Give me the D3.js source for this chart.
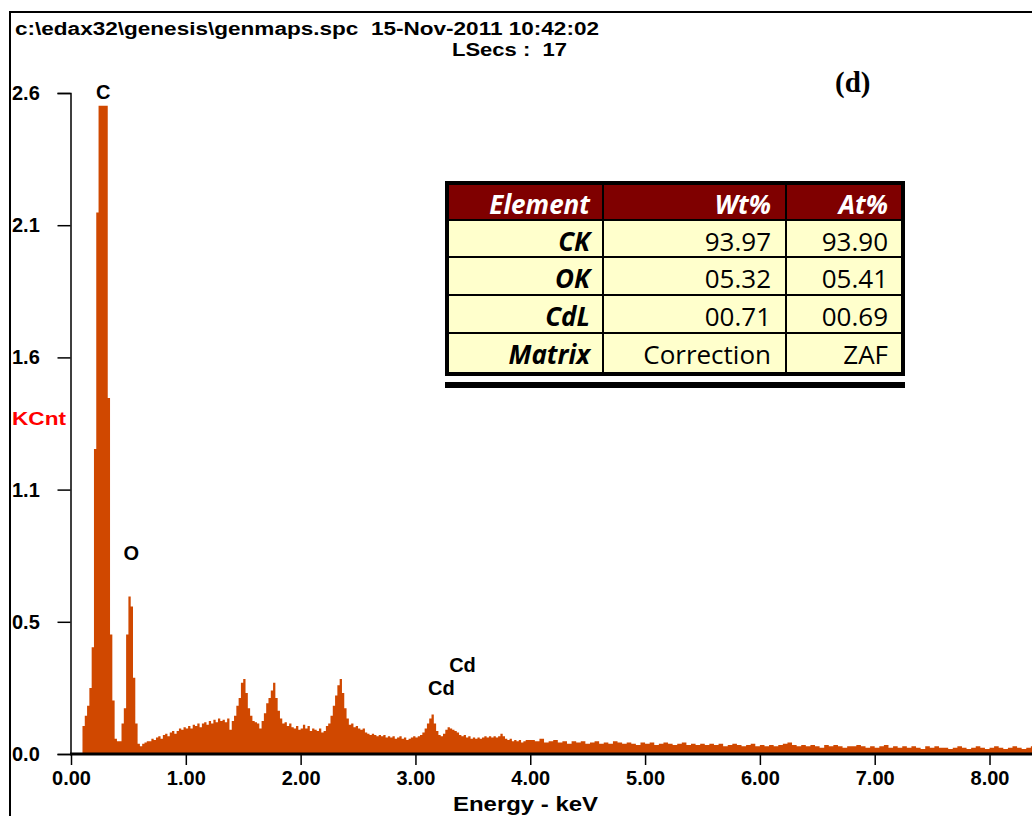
<!DOCTYPE html>
<html>
<head>
<meta charset="utf-8">
<script src="https://cdnjs.cloudflare.com/ajax/libs/d3/7.8.5/d3.min.js"></script>
<style>
body { margin: 0; background: #fff; }
svg { display: block; }
</style>
</head>
<body>
<div id="chart"></div>
<script>
//spectrum counts (KCnt), fine channels from 0.10 keV in 0.02 keV steps
var lowStart = 0.10;
var lowStep = 0.02;
var lowCounts = [
    0.11, 0.15, 0.19, 0.26, 0.42, 1.20, 2.13, 2.55, 2.55, 2.55,
    2.55, 1.40, 0.47, 0.21, 0.06, 0.05, 0.05, 0.12, 0.18, 0.47,
    0.62, 0.58, 0.30, 0.12, 0.04, 0.03, 0.04, 0.045, 0.05, 0.05,
    0.06, 0.055, 0.065, 0.07, 0.06, 0.075, 0.08, 0.07, 0.085, 0.09,
    0.08, 0.09, 0.10, 0.095, 0.105, 0.10, 0.11, 0.10, 0.115, 0.11,
    0.12, 0.105, 0.12, 0.125, 0.115, 0.13, 0.12, 0.135, 0.125, 0.14,
    0.13, 0.135, 0.125, 0.14, 0.095, 0.13, 0.15, 0.19, 0.22, 0.28,
    0.295, 0.24, 0.18, 0.15, 0.13, 0.125, 0.12, 0.10, 0.13, 0.16,
    0.20, 0.22, 0.25, 0.28, 0.22, 0.17, 0.14, 0.12, 0.125, 0.11,
    0.12, 0.105, 0.10, 0.11, 0.095, 0.10, 0.115, 0.10, 0.11, 0.09,
    0.10, 0.095, 0.09, 0.10, 0.085, 0.09, 0.11, 0.12, 0.15, 0.19,
    0.23, 0.27, 0.295, 0.24, 0.18, 0.14, 0.115, 0.12, 0.105, 0.11,
    0.10, 0.095, 0.10, 0.085, 0.08, 0.075, 0.08, 0.075, 0.07, 0.075,
    0.07, 0.075, 0.065, 0.07, 0.065, 0.07, 0.06, 0.065, 0.07, 0.06,
    0.065, 0.055, 0.06, 0.065, 0.07, 0.065, 0.07, 0.075, 0.085, 0.10,
    0.12, 0.14, 0.155, 0.12, 0.09, 0.075, 0.07, 0.08, 0.095, 0.105,
    0.10, 0.095, 0.09, 0.085, 0.075, 0.07, 0.075, 0.065, 0.07, 0.06,
    0.065, 0.06, 0.065, 0.06, 0.065, 0.07, 0.065, 0.07, 0.065, 0.07,
    0.065, 0.07, 0.08, 0.07, 0.06, 0.055, 0.06, 0.05, 0.055, 0.05,
    0.055, 0.045, 0.05, 0.055
];

//coarser channels from 4.00 keV in 0.04 keV steps
var highStart = 4.00;
var highStep = 0.04;
var highCounts = [
    0.055, 0.05, 0.06, 0.045, 0.05, 0.055, 0.045, 0.05, 0.04, 0.05,
    0.045, 0.05, 0.04, 0.045, 0.05, 0.04, 0.045, 0.04, 0.05, 0.045,
    0.04, 0.045, 0.04, 0.035, 0.045, 0.04, 0.045, 0.035, 0.04, 0.045,
    0.04, 0.035, 0.04, 0.045, 0.035, 0.04, 0.035, 0.04, 0.035, 0.04,
    0.035, 0.04, 0.03, 0.035, 0.04, 0.035, 0.03, 0.035, 0.04, 0.03,
    0.035, 0.03, 0.035, 0.03, 0.035, 0.04, 0.045, 0.035, 0.03, 0.035,
    0.03, 0.035, 0.03, 0.025, 0.035, 0.03, 0.035, 0.03, 0.025, 0.03,
    0.03, 0.035, 0.03, 0.025, 0.03, 0.025, 0.03, 0.035, 0.025, 0.03,
    0.025, 0.03, 0.025, 0.03, 0.025, 0.02, 0.03, 0.025, 0.03, 0.025,
    0.025, 0.02, 0.025, 0.03, 0.025, 0.02, 0.025, 0.03, 0.025, 0.02,
    0.025, 0.03, 0.025, 0.02, 0.025, 0.03, 0.025, 0.02, 0.025, 0.03
];

//axis ticks
var xTicks = [0, 1, 2, 3, 4, 5, 6, 7, 8];
var yTickLabels = ["0.0", "0.5", "1.1", "1.6", "2.1", "2.6"];
var yMax = 2.6;
var xMax = 8.37;

//peak labels: energy (keV) and height (KCnt) of the label baseline
var peakNames = ["C", "O", "Cd", "Cd"];
var peakEnergy = [0.28, 0.525, 3.226, 3.41];
var peakHeight = [2.575, 0.765, 0.232, 0.323];

//quantification table
var tableHeader = ["Element", "Wt%", "At%"];
var tableRows = [
    ["CK", "93.97", "93.90"],
    ["OK", "05.32", "05.41"],
    ["CdL", "00.71", "00.69"],
    ["Matrix", "Correction", "ZAF"]
];

var svgWidth = 1032;
var svgHeight = 816;
var labelFont = "'Liberation Sans', Arial, sans-serif";
var fill = "#d04800";

var svg = d3.select("#chart")
    .append("svg")
    .attr("width", svgWidth)
    .attr("height", svgHeight);

//scales
var x = d3.scaleLinear().domain([0, xMax]).range([71, 1032]);
var y = d3.scaleLinear().domain([0, yMax]).range([754, 93]);

//outer frame
svg.append("path")
    .attr("d", "M10,816 V12 H1032")
    .attr("fill", "none")
    .attr("stroke", "#000")
    .attr("stroke-width", 2);

//header lines
svg.append("text")
    .attr("x", 15)
    .attr("y", 35)
    .attr("font-family", labelFont)
    .attr("font-weight", "bold")
    .attr("font-size", 18)
    .attr("textLength", 584)
    .attr("lengthAdjust", "spacingAndGlyphs")
    .style("white-space", "pre")
    .text("c:\\edax32\\genesis\\genmaps.spc  15-Nov-2011 10:42:02");

svg.append("text")
    .attr("x", 452)
    .attr("y", 56)
    .attr("font-family", labelFont)
    .attr("font-weight", "bold")
    .attr("font-size", 18)
    .attr("textLength", 115)
    .attr("lengthAdjust", "spacingAndGlyphs")
    .style("white-space", "pre")
    .text("LSecs :  17");

svg.append("text")
    .attr("x", 835)
    .attr("y", 92)
    .attr("font-family", "'Liberation Serif', 'Times New Roman', serif")
    .attr("font-weight", "bold")
    .attr("font-size", 29)
    .text("(d)");

//build step points of the spectrum
var points = [];
lowCounts.forEach(function(v, i) {
    points.push({e: lowStart + i * lowStep, v: v});
});
highCounts.forEach(function(v, i) {
    points.push({e: highStart + i * highStep, v: v});
});
points.push({e: highStart + highCounts.length * highStep, v: highCounts[highCounts.length - 1]});

var area = d3.area()
    .curve(d3.curveStepAfter)
    .x(d => x(d.e))
    .y0(y(0))
    .y1(d => y(d.v));

svg.append("path")
    .datum(points)
    .attr("d", area)
    .attr("fill", fill)
    .attr("stroke", "none");

//y axis
var yAxis = d3.axisLeft(y)
    .tickValues(yTickLabels.map((d, i) => i * yMax / (yTickLabels.length - 1)))
    .tickSize(13)
    .tickFormat((d, i) => yTickLabels[i]);

var yG = svg.append("g")
    .attr("transform", "translate(70.5,0)")
    .call(yAxis);
yG.select(".domain").attr("stroke-width", 1.5);
yG.selectAll(".tick line").attr("stroke-width", 1.5);
yG.selectAll(".tick text")
    .attr("x", -58.5)
    .attr("text-anchor", "start")
    .attr("font-family", labelFont)
    .attr("font-weight", "bold")
    .attr("font-size", 20)
    .attr("fill", "#000");

//x axis
var xAxis = d3.axisBottom(x)
    .tickValues(xTicks)
    .tickSize(11)
    .tickSizeOuter(0)
    .tickFormat(d3.format(".2f"));

var xG = svg.append("g")
    .attr("transform", `translate(0, ${y(0)})`)
    .call(xAxis);
xG.select(".domain").remove();
xG.selectAll(".tick line").attr("stroke-width", 1.5);
xG.selectAll(".tick text")
    .attr("y", 17)
    .attr("dy", "0.71em")
    .attr("font-family", labelFont)
    .attr("font-weight", "bold")
    .attr("font-size", 20)
    .attr("fill", "#000");

//thick baseline
svg.append("line")
    .attr("x1", 70)
    .attr("x2", 1032)
    .attr("y1", y(0))
    .attr("y2", y(0))
    .attr("stroke", "#000")
    .attr("stroke-width", 3);

//axis titles
svg.append("text")
    .attr("x", 12)
    .attr("y", 425)
    .attr("font-family", labelFont)
    .attr("font-weight", "bold")
    .attr("font-size", 19)
    .attr("textLength", 54)
    .attr("lengthAdjust", "spacingAndGlyphs")
    .attr("fill", "#ff0000")
    .text("KCnt");

svg.append("text")
    .attr("x", 453)
    .attr("y", 811)
    .attr("font-family", labelFont)
    .attr("font-weight", "bold")
    .attr("font-size", 21)
    .attr("textLength", 145)
    .attr("lengthAdjust", "spacingAndGlyphs")
    .text("Energy - keV");

//peak labels
svg.selectAll(".peak")
    .data(peakNames)
    .enter()
    .append("text")
    .attr("class", "peak")
    .attr("x", (d, i) => x(peakEnergy[i]))
    .attr("y", (d, i) => y(peakHeight[i]))
    .attr("text-anchor", "middle")
    .attr("font-family", labelFont)
    .attr("font-weight", "bold")
    .attr("font-size", 20)
    .text(d => d);

//table
var colEdges = [447, 603, 786, 903];
var rowEdges = [183, 220, 257, 295, 333, 374];
var tableFont = "'Open Sans', 'Noto Sans', sans-serif";

var table = svg.append("g");

table.append("rect")
    .attr("x", colEdges[0])
    .attr("y", rowEdges[1])
    .attr("width", colEdges[3] - colEdges[0])
    .attr("height", rowEdges[5] - rowEdges[1])
    .attr("fill", "#ffffcc");

table.append("rect")
    .attr("x", colEdges[0])
    .attr("y", rowEdges[0])
    .attr("width", colEdges[3] - colEdges[0])
    .attr("height", rowEdges[1] - rowEdges[0])
    .attr("fill", "#7f0000");

//inner grid lines
rowEdges.slice(1, 5).forEach(function(r) {
    table.append("line")
        .attr("x1", colEdges[0]).attr("x2", colEdges[3])
        .attr("y1", r).attr("y2", r)
        .attr("stroke", "#000").attr("stroke-width", 2);
});
colEdges.slice(1, 3).forEach(function(c) {
    table.append("line")
        .attr("x1", c).attr("x2", c)
        .attr("y1", rowEdges[0]).attr("y2", rowEdges[5])
        .attr("stroke", "#000").attr("stroke-width", 2);
});

//outer border
table.append("rect")
    .attr("x", colEdges[0])
    .attr("y", rowEdges[0])
    .attr("width", colEdges[3] - colEdges[0])
    .attr("height", rowEdges[5] - rowEdges[0])
    .attr("fill", "none")
    .attr("stroke", "#000")
    .attr("stroke-width", 4);

//double underline
table.append("rect")
    .attr("x", colEdges[0] - 2)
    .attr("y", 382)
    .attr("width", colEdges[3] - colEdges[0] + 4)
    .attr("height", 6)
    .attr("fill", "#000");

var textRight = [590, 771, 888];

tableHeader.forEach(function(h, j) {
    table.append("text")
        .attr("x", textRight[j])
        .attr("y", rowEdges[0] + 31)
        .attr("text-anchor", "end")
        .attr("font-family", tableFont)
        .attr("font-weight", "bold")
        .attr("font-style", "italic")
        .attr("font-size", 26)
        .attr("fill", "#fff")
        .text(h);
});

tableRows.forEach(function(row, i) {
    row.forEach(function(cell, j) {
        table.append("text")
            .attr("x", textRight[j])
            .attr("y", rowEdges[i + 1] + 31)
            .attr("text-anchor", "end")
            .attr("font-family", tableFont)
            .attr("font-weight", j == 0 ? "bold" : "normal")
            .attr("font-style", j == 0 ? "italic" : "normal")
            .attr("font-size", 26)
            .attr("fill", "#000")
            .text(cell);
    });
});
</script>
</body>
</html>
